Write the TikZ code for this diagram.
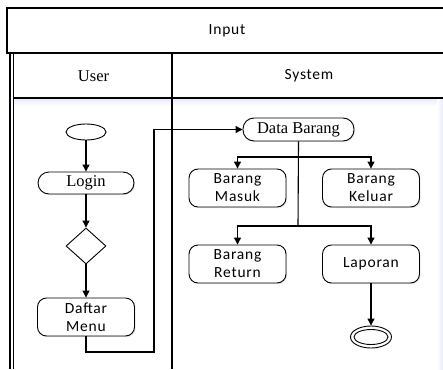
\documentclass[tikz,border=0pt]{standalone}
\usepackage{fontspec}
\setmainfont{Liberation Serif}
\newfontfamily\lanesans[LetterSpace=5]{Carlito}
\usetikzlibrary{arrows.meta,shapes.geometric,shadows}
\tikzset{
  px/.style={x=1pt,y=-1pt},
  frame/.style={draw=black,line width=1.1pt},
  flow/.style={draw=black,line width=1.1pt,-{Triangle[length=7pt,width=7pt]}},
  boxshadow/.style={drop shadow={opacity=0.18,shadow xshift=1.2pt,shadow yshift=-1.2pt}},
  stadium/.style={draw,line width=0.9pt,rounded corners=11pt,minimum width=96pt,minimum height=22pt,
    inner sep=0pt,fill=white,boxshadow,font=\fontsize{16.5}{18}\selectfont},
  actbox/.style={draw,line width=0.9pt,rounded corners=9pt,minimum width=97pt,minimum height=38pt,
    inner sep=0pt,fill=white,boxshadow,align=center,font=\lanesans\fontsize{15.5}{18}\selectfont},
  header/.style={font=\lanesans\fontsize{15.5}{17}\selectfont},
  serifhead/.style={font=\fontsize{16.5}{17}\selectfont},
}
\begin{document}
\begin{tikzpicture}[px]
\useasboundingbox (0,0) rectangle (443,369);
% lane background with a soft tint under the headers
\fill[white] (0,0) rectangle (443,369);
\shade[top color=blue!9,bottom color=white] (13.5,98) rectangle (443,106);
\shade[left color=white,right color=blue!9] (437,98) rectangle (443,369);
% swimlane frame
\draw[frame] (443,8) -- (7,8) -- (7,53) -- (443,53);
\draw[frame] (13.5,98) -- (443,98);
\draw[frame] (10,53) -- (10,369);
\draw[frame] (13.5,53) -- (13.5,369);
\draw[frame] (172,53) -- (172,369);
% headers
\node[header] (hin) at (227,31) {Input};
\node[serifhead] (huser) at (93.5,76) {User};
\node[header] (hsys) at (309,76) {System};
% user lane
\node[ellipse,draw,line width=0.9pt,minimum width=40pt,minimum height=16pt,inner sep=0pt,fill=white] (start) at (86,132) {};
\node[stadium] (login) at (86,183) {Login};
\node[diamond,draw,line width=0.9pt,minimum width=40pt,minimum height=36pt,inner sep=0pt,aspect=1.1,fill=white] (dec) at (86,246) {};
\node[actbox] (menu) at (86,317) {Daftar\\Menu};
% system lane
\node[stadium,minimum width=111pt,minimum height=23pt] (data) at (298.5,129.5) {Data Barang};
\node[actbox] (masuk) at (237.5,188) {Barang\\Masuk};
\node[actbox] (keluar) at (371,188) {Barang\\Keluar};
\node[actbox] (retur) at (237.5,264) {Barang\\Return};
\node[actbox] (lapor) at (371,264) {Laporan};
\node[ellipse,draw,line width=0.9pt,minimum width=41pt,minimum height=22pt,inner sep=0pt,fill=white] (end) at (371,337) {};
\node[ellipse,draw,line width=0.9pt,minimum width=34pt,minimum height=15pt,inner sep=0pt] (endin) at (end.center) {};
% fork points
\coordinate (fa) at (298,157);
\coordinate (fb) at (298,226);
% connectors
\draw[flow] (start) -- (login);
\draw[flow] (login) -- (dec);
\draw[flow] (dec) -- (menu);
\draw[flow] (menu.south) |- (154,352) |- (data.west);
\draw[frame] (data.south) -- (fb);
\draw[flow] (fa) -| (masuk.north);
\draw[flow] (fa) -| (keluar.north);
\draw[flow] (fb) -| (retur.north);
\draw[flow] (fb) -| (lapor.north);
\draw[flow] (lapor) -- (end);
\end{tikzpicture}
\end{document}
